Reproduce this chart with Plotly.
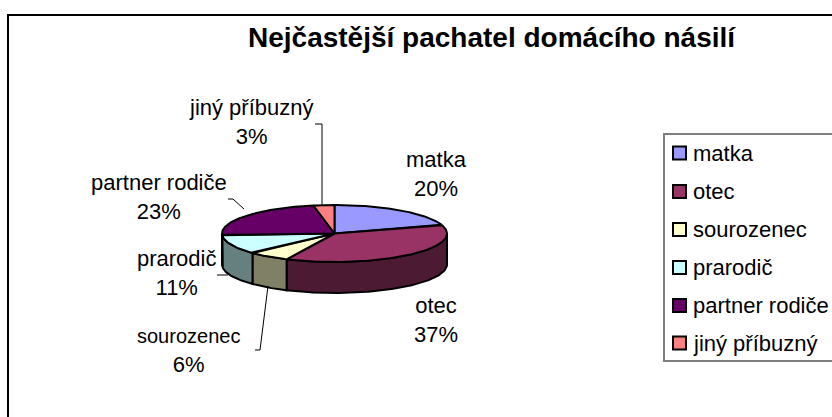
import numpy as np
import plotly.graph_objects as go

categories = ["matka", "otec", "sourozenec", "prarodič", "partner rodiče", "jiný příbuzný"]
values = [20, 37, 6, 11, 23, 3]
colors = ["#9999FF", "#993366", "#FFFFCC", "#CCFFFF", "#660066", "#FF8080"]
side_colors = ["#4C4C80", "#4D1A33", "#808066", "#668080", "#330033", "#804040"]
title = "Nejčastější pachatel domácího násilí"

W, H = 832, 417
CX, CY, A, B, DEPTH = 334.5, 233.5, 112.5, 28.5, 31
FONT = "Liberation Sans, Arial, sans-serif"

def rim(t0, t1, dy=0):
    t = np.radians(np.linspace(t0, t1, max(int(abs(t1 - t0)) + 2, 2)))
    return CX + A * np.sin(t), CY - B * np.cos(t) + dy

fig = go.Figure()
edges = np.concatenate([[0], np.cumsum(values) / np.sum(values) * 360])

# visible outer wall of the cylinder
for i, name in enumerate(categories):
    t0, t1 = max(edges[i], 90), min(edges[i + 1], 270)
    if t1 <= t0:
        continue
    x1, y1 = rim(t0, t1)
    x2, y2 = rim(t1, t0, DEPTH)
    fig.add_trace(go.Scatter(
        x=np.r_[x1, x2, x1[0]], y=np.r_[y1, y2, y1[0]], mode="lines", fill="toself",
        fillcolor=side_colors[i], line=dict(color="black", width=2),
        showlegend=False, name=name, hoverinfo="name"))

# top face
for i, name in enumerate(categories):
    x, y = rim(edges[i], edges[i + 1])
    fig.add_trace(go.Scatter(
        x=np.r_[CX, x, CX], y=np.r_[CY, y, CY], mode="lines", fill="toself",
        fillcolor=colors[i], line=dict(color="black", width=2),
        showlegend=False, name=name, hoverinfo="name"))

# legend rows
legend_y = [153, 191.5, 229.5, 267.5, 305.5, 343]
for i, name in enumerate(categories):
    fig.add_trace(go.Scatter(
        x=[679.5], y=[legend_y[i]], mode="markers",
        marker=dict(symbol="square", size=13, color=colors[i], line=dict(color="black", width=2)),
        showlegend=False, name=name, hoverinfo="name", cliponaxis=False))

shapes = [
    dict(type="rect", x0=8, y0=15, x1=W + 20, y1=H + 20, line=dict(color="black", width=2), layer="below"),
    dict(type="rect", x0=664, y0=134, x1=W + 20, y1=361, line=dict(color="#7f7f7f", width=2), layer="below"),
]
leaders = [
    [(322, 205), (322, 124), (315, 124)],
    [(244, 209), (233, 199), (228, 199)],
    [(228, 275), (217, 275)],
    [(268, 286), (260, 350), (255, 350)],
]
for pts in leaders:
    for (a, b), (c, d) in zip(pts[:-1], pts[1:]):
        shapes.append(dict(type="line", x0=a, y0=b, x1=c, y1=d, line=dict(color="black", width=1)))

labels = [
    ("matka<br>20%", 436, 174),
    ("otec<br>37%", 436, 320),
    ("<span style='font-size:20px'>sourozenec</span><br>6%", 188, 351),
    ("prarodič<br>11%", 176, 273),
    ("partner rodiče<br>23%", 159, 197),
    ("jiný příbuzný<br>3%", 251, 122),
]
annotations = [dict(x=x, y=y, text=t, showarrow=False, xref="x", yref="y",
                    font=dict(family=FONT, size=22, color="black"), align="center")
               for t, x, y in labels]
annotations += [dict(x=691, y=ly, text=name, showarrow=False, xref="x", yref="y", xanchor="left",
                     font=dict(family=FONT, size=22, color="black"))
                for name, ly in zip(categories, legend_y)]
annotations.append(dict(x=492, y=37, text=f"<b>{title}</b>", showarrow=False, xref="x", yref="y",
                        font=dict(family=FONT, size=28, color="black")))

fig.update_layout(
    width=W, height=H, margin=dict(l=0, r=0, t=0, b=0),
    paper_bgcolor="white", plot_bgcolor="white", showlegend=False,
    xaxis=dict(range=[0, W], visible=False, fixedrange=True),
    yaxis=dict(range=[H, 0], visible=False, fixedrange=True),
    shapes=shapes, annotations=annotations,
)
fig.write_html("out.html", config=dict(displayModeBar=False),
               post_script="document.body.style.margin='0';document.body.style.overflow='hidden';")
